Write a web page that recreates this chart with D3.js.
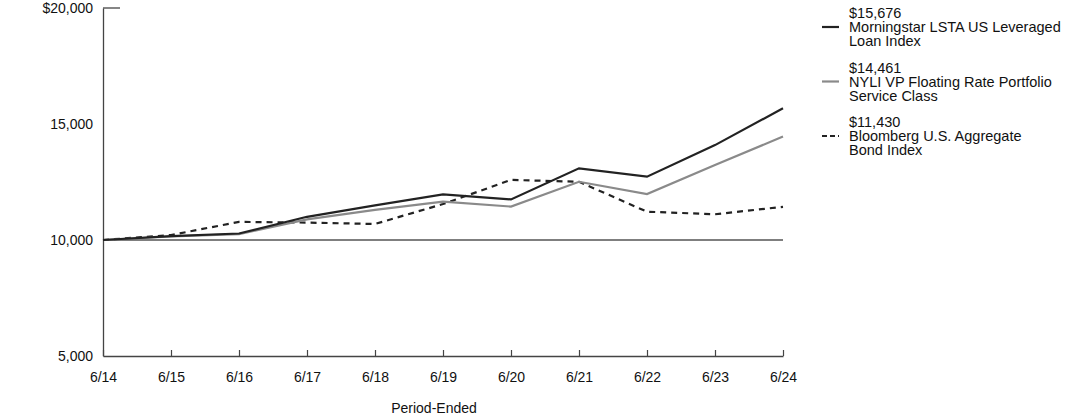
<!DOCTYPE html>
<html><head><meta charset="utf-8">
<script src="https://cdn.jsdelivr.net/npm/d3@7"></script>
<style>body{margin:0;background:#fff}svg{display:block}text{font-family:"Liberation Sans",Arial,sans-serif;fill:#111}</style>
</head><body><svg id="c" width="1092" height="417"></svg>
<script>
const periods = ["6/14","6/15","6/16","6/17","6/18","6/19","6/20","6/21","6/22","6/23","6/24"];
const morningstar = [10000,10170,10280,11000,11490,11970,11750,13090,12730,14090,15676];
const fund = [10000,10150,10250,10890,11300,11650,11440,12510,11980,13230,14461];
const bloomberg = [10000,10215,10780,10750,10690,11550,12590,12510,11220,11110,11430];
const yTicks = [5000,10000,15000,20000];
const seriesNames = ["Morningstar LSTA US Leveraged|Loan Index","NYLI VP Floating Rate Portfolio|Service Class","Bloomberg U.S. Aggregate|Bond Index"];
const endLabels = ["$15,676","$14,461","$11,430"];

const svg = d3.select("#c");
const x = d3.scalePoint().domain(periods).range([103,783]);
const y = d3.scaleLinear().domain([5000,20000]).range([356,8]);
const axisColor = "#444";

svg.append("line").attr("x1",x(periods[0])).attr("x2",x(periods[periods.length-1]))
  .attr("y1",y(10000)).attr("y2",y(10000)).attr("stroke","#555").attr("stroke-width",1.3);

const ya = svg.append("g").attr("transform","translate(103,0)")
  .call(d3.axisLeft(y).tickValues(yTicks).tickSize(0).tickPadding(10)
    .tickFormat(d => d===20000 ? "$20,000" : d3.format(",")(d)));
ya.select(".domain").attr("stroke",axisColor).attr("stroke-width",1.3);
ya.selectAll("text").style("font-size","14px").attr("fill","#111");
svg.append("line").attr("x1",103).attr("x2",120).attr("y1",y(20000)).attr("y2",y(20000))
  .attr("stroke",axisColor).attr("stroke-width",1.3);

const xa = svg.append("g").attr("transform","translate(0,356)")
  .call(d3.axisBottom(x).tickSize(-6).tickPadding(16).tickSizeOuter(0));
xa.select(".domain").attr("stroke",axisColor).attr("stroke-width",1.3);
xa.selectAll(".tick line").attr("stroke",axisColor).attr("stroke-width",1.2);
xa.selectAll("text").style("font-size","14px").attr("fill","#111");

svg.append("text").attr("x",434).attr("y",413).attr("text-anchor","middle")
  .style("font-size","14px").text("Period-Ended");

const line = d3.line().x((d,i)=>x(periods[i])).y(d=>y(d));
const styles = [
  {data:morningstar,color:"#222",dash:null},
  {data:fund,color:"#8a8a8a",dash:null},
  {data:bloomberg,color:"#222",dash:"6,5"}
];
[styles[2],styles[1],styles[0]].forEach(s=>{
  svg.append("path").datum(s.data).attr("d",line).attr("fill","none")
    .attr("stroke",s.color).attr("stroke-width",2.2).attr("stroke-dasharray",s.dash);
});

const lg = svg.append("g");
styles.forEach((s,i)=>{
  const top = 13 + i*54.5;
  lg.append("line").attr("x1",822).attr("x2",839).attr("y1",top+14).attr("y2",top+14)
    .attr("stroke",s.color).attr("stroke-width",2.2).attr("stroke-dasharray",s.dash ? "5,3" : null);
  const t = lg.append("text").style("font-size","14.5px");
  const lines = [endLabels[i]].concat(seriesNames[i].split("|"));
  lines.forEach((l,j)=>{
    t.append("tspan").attr("x",849).attr("y",top+5+j*14).text(l);
  });
});
</script></body></html>
